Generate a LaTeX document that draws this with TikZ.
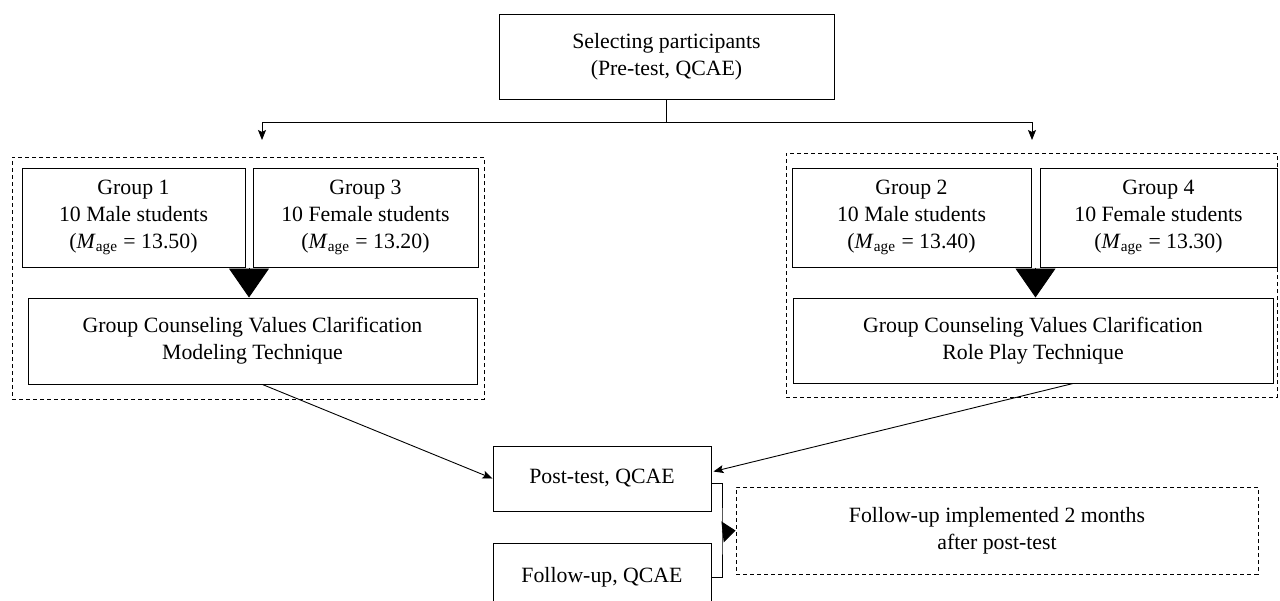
\documentclass[tikz,border=0pt]{standalone}
\usepackage{fontspec}
\setmainfont{Liberation Serif}
\usetikzlibrary{arrows.meta,calc}
\begin{document}
\begin{tikzpicture}[x=0.5pt,y=-0.5pt,
  box/.style={draw,line width=0.5pt,align=center,inner sep=0pt,font=\fontsize{10.9}{13.6}\selectfont},
  sz/.style 2 args={minimum width=#1*0.5pt,minimum height=#2*0.5pt},
  dbox/.style={draw,line width=0.5pt,dash pattern=on 2pt off 1.5pt,inner sep=0pt},
  arr/.style={-{Stealth[length=5pt,width=4pt,inset=1pt]},line width=0.45pt},
  bigtri/.style={-{Triangle[width=20pt,length=14.5pt]},line width=0.45pt},
  smalltri/.style={-{Triangle[width=10.5pt,length=6.5pt]},line width=0.45pt},
  line/.style={line width=0.5pt}
]
\useasboundingbox (0,0) rectangle (1280,600);
\clip (0,0) rectangle (1280,600);

% grouping frames
\node[dbox,sz={472}{242}] (lframe) at (248,278) {};
\node[dbox,sz={491}{244}] (rframe) at (1031.5,275) {};

% boxes
\node[box,sz={335}{85}] (top) at (666.5,56.5) {Selecting participants\\(Pre-test, QCAE)};
\node[box,sz={223}{99}] (g1) at (133.5,217.5) {Group 1\\10 Male students\\(\textit{M}\textsubscript{age} = 13.50)};
\node[box,sz={225}{99}] (g3) at (365.5,217.5) {Group 3\\10 Female students\\(\textit{M}\textsubscript{age} = 13.20)};
\node[box,sz={449}{86}] (lc) at (252.5,341) {Group Counseling Values Clarification\\Modeling Technique};
\node[box,sz={239}{99}] (g2) at (911.5,217.5) {Group 2\\10 Male students\\(\textit{M}\textsubscript{age} = 13.40)};
\node[box,sz={237}{99}] (g4) at (1158.5,217.5) {Group 4\\10 Female students\\(\textit{M}\textsubscript{age} = 13.30)};
\node[box,sz={480}{85}] (rc) at (1033,340.5) {Group Counseling Values Clarification\\Role Play Technique};
\node[box,sz={218}{65}] (pt) at (602,478.5) {Post-test, QCAE};
\node[box,sz={218}{68}] (fu) at (602,577) {Follow-up, QCAE};
\node[dbox,align=center,font=\fontsize{10.9}{13.6}\selectfont,sz={522}{87}] (note) at (997,530.5) {Follow-up implemented 2 months\\after post-test};

% top split
\coordinate (split) at (666.5,122);
\coordinate (la) at (262,140);
\coordinate (ra) at (1032,140);
\draw[line] (top.south) -- (split);
\draw[arr] (split) -| (la);
\draw[arr] (split) -| (ra);

% big triangles
\coordinate (lm) at ($(g1.south east)!0.5!(g3.south west)$);
\coordinate (rm) at ($(g2.south east)!0.5!(g4.south west)$);
\draw[bigtri] (lm) -- (lm |- lc.north);
\draw[bigtri] (rm) -- (rm |- rc.north);

% to post-test
\draw[arr] ($(lc.south)+(10,0)$) -- (pt.west);
\draw[arr] ($(rc.south)+(40,0)$) -- ($(pt.east)+(2,-7)$);

% bracket
\coordinate (bx) at (722,532);
\draw[line] ($(pt.east)+(0,5)$) -| (bx) |- (fu.east);
\draw[smalltri] (bx) -- (note.west);
\end{tikzpicture}
\end{document}
